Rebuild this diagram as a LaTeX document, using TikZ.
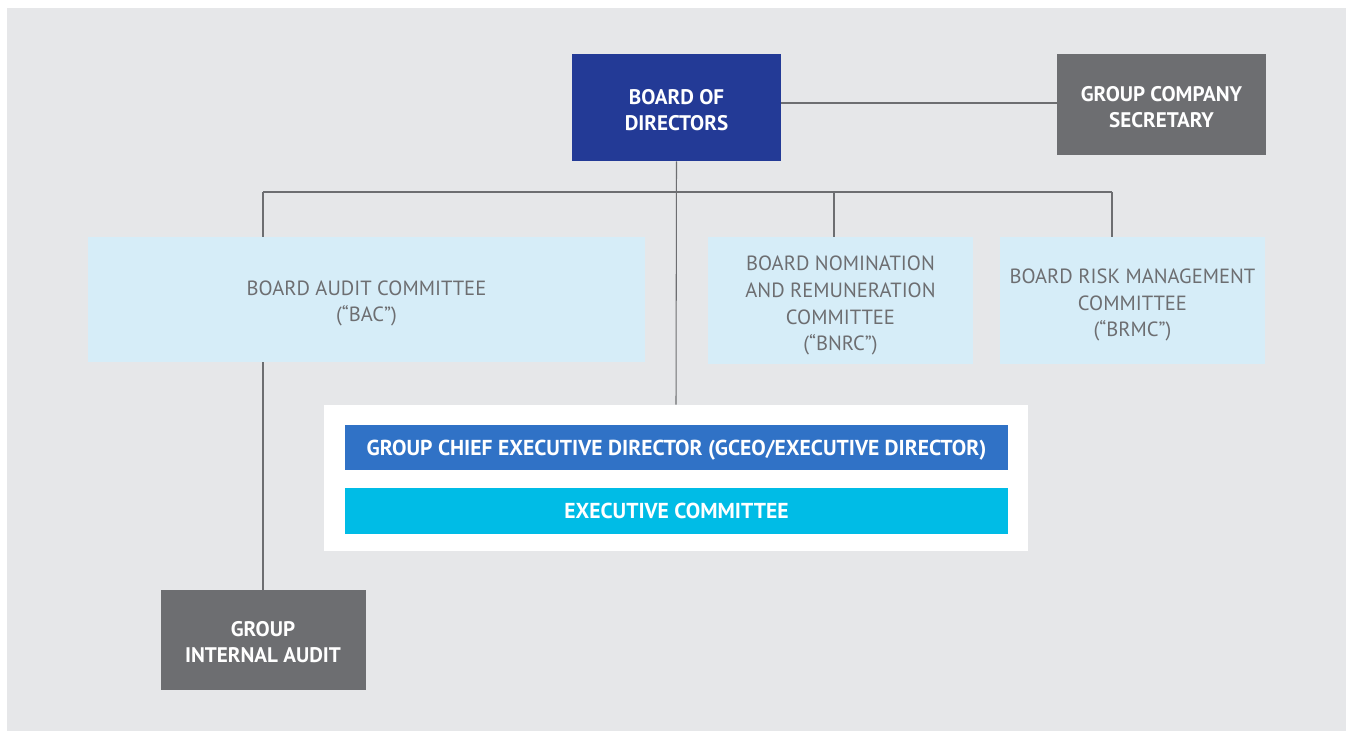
\documentclass[tikz,border=0pt]{standalone}
\usepackage{fontspec}
\setmainfont{PT Sans}
\usepackage{tikz}
\usetikzlibrary{positioning,calc}
\definecolor{PageGrey}{HTML}{E6E7E9}
\definecolor{BoardBlue}{HTML}{233A96}
\definecolor{DarkGrey}{HTML}{6D6E71}
\definecolor{PaleBlue}{HTML}{D6EDF8}
\definecolor{MidBlue}{HTML}{3072C6}
\definecolor{SkyBlue}{HTML}{00BCE6}
\tikzset{
  head box/.style={fill=#1,text=white,align=center,inner sep=4pt,text height=0.91cm,
    font=\fontsize{12}{14.5}\selectfont\bfseries},
  committee box/.style={fill=PaleBlue,text=DarkGrey,align=center,inner sep=4pt,
    font=\fontsize{11.7}{15.2}\selectfont},
  bar box/.style={fill=#1,text=white,minimum width=13.26cm,minimum height=0.91cm,text depth=-0.05cm,
    font=\fontsize{12.3}{14}\selectfont\bfseries},
  link/.style={draw=DarkGrey,line width=0.6pt}
}

\begin{document}
\begin{tikzpicture}
  \useasboundingbox (0,0) rectangle (26.96,-14.62);
  \fill[PageGrey] (0.14,-0.16) rectangle (26.92,-14.62);
  % top level
  \node[head box=BoardBlue,minimum width=4.18cm,minimum height=2.14cm] (board) at (13.53,-2.15) {BOARD OF\\DIRECTORS};
  \node[head box=DarkGrey,minimum width=4.18cm,minimum height=2.02cm] (secretary) at (23.23,-2.09) {GROUP COMPANY\\SECRETARY};
  % committees
  \node[committee box,text height=0.98cm,minimum width=11.14cm,minimum height=2.50cm] (bac) at (7.33,-5.99) {BOARD AUDIT COMMITTEE\\(“BAC”)};
  \node[committee box,text height=2.1cm,minimum width=5.30cm,minimum height=2.54cm] (bnrc) at (16.81,-6.01) {BOARD NOMINATION\\AND REMUNERATION\\COMMITTEE\\(“BNRC”)};
  \node[committee box,text height=1.54cm,minimum width=5.30cm,minimum height=2.54cm] (brmc) at (22.65,-6.01) {BOARD RISK MANAGEMENT\\COMMITTEE\\(“BRMC”)};
  % management
  \node[fill=white,minimum width=14.08cm,minimum height=2.92cm] (mgmt) at (13.52,-9.56) {};
  \node[bar box=MidBlue] (gceo) at (13.53,-8.95) {GROUP CHIEF EXECUTIVE DIRECTOR (GCEO/EXECUTIVE DIRECTOR)};
  \node[bar box=SkyBlue] (exco) at (13.53,-10.22) {EXECUTIVE COMMITTEE};
  \node[head box=DarkGrey,text height=0.89cm,minimum width=4.10cm,minimum height=2.00cm] (gia) at (5.26,-12.80) {GROUP\\INTERNAL AUDIT};
  % lines
  \coordinate (busL) at (5.26,-3.84);
  \coordinate (busM) at (16.68,-3.84);
  \coordinate (busR) at (22.24,-3.84);
  \draw[link] (board.east |- 0,-2.06) -- (secretary.west |- 0,-2.06);
  \draw[link] (board.south) -- (mgmt.north);
  \draw[link] (busL) -- (busR);
  \draw[link] (busL) -- (busL |- bac.north);
  \draw[link] (busM) -- (busM |- bnrc.north);
  \draw[link] (busR) -- (busR |- brmc.north);
  \draw[link] (gia.north |- bac.south) -- (gia.north);
\end{tikzpicture}
\end{document}
